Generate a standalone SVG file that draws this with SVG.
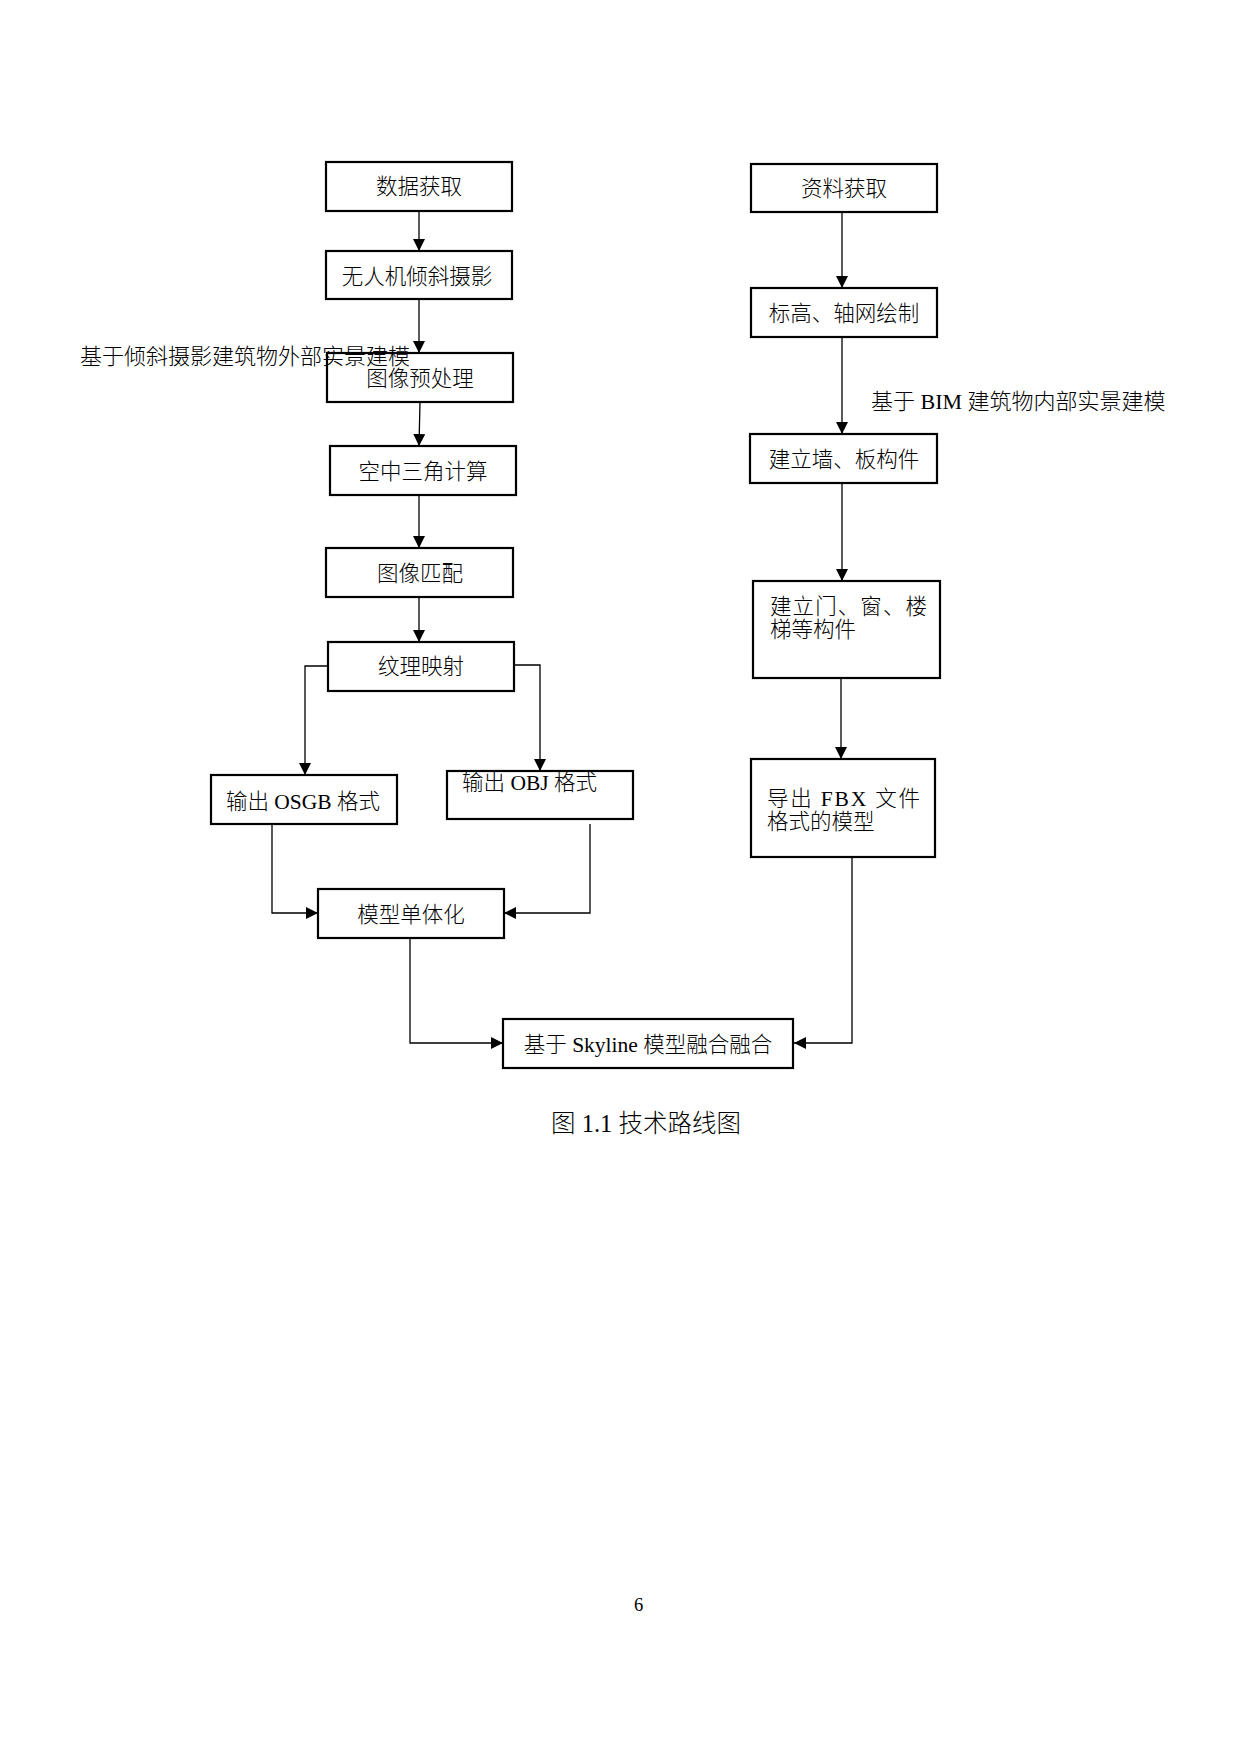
<svg xmlns="http://www.w3.org/2000/svg" width="1240" height="1754" viewBox="0 0 1240 1754">
<style>
.box{fill:#fff;stroke:#000;stroke-width:2.2}
.t{font-family:"Liberation Serif","Noto Sans CJK SC",serif;font-size:21.5px;font-weight:300;fill:#000}
.c{text-anchor:middle}
.lbl{font-family:"Liberation Serif","Noto Sans CJK SC",serif;font-weight:300;fill:#000}
#connectors path{fill:none;stroke:#000;stroke-width:1.3;marker-end:url(#arr)}
</style>
<defs>
<marker id="arr" markerUnits="userSpaceOnUse" markerWidth="12" markerHeight="12" refX="12" refY="6" orient="auto">
<path d="M0,0 L12,6 L0,12 z" fill="#000"/>
</marker>
</defs>
<rect width="1240" height="1754" fill="#fff"/>
<g id="connectors">
<path d="M419,211 V251"/>
<path d="M419,299 V353"/>
<path d="M420,402 L419,446"/>
<path d="M419,495 V548"/>
<path d="M419,597 V642"/>
<path d="M328,666 H305 V775"/>
<path d="M514,665 H540 V771"/>
<path d="M272,824 V913 H318"/>
<path d="M590,824 V913 H504"/>
<path d="M410,938 V1043 H503"/>
<path d="M842,212 V288"/>
<path d="M842,337 V434"/>
<path d="M842,483 V581"/>
<path d="M841,678 V759"/>
<path d="M852,857 V1043 H794"/>
</g>
<g id="n1"><rect class="box" x="326" y="162" width="186" height="49"/><text class="t c" x="419" y="194">数据获取</text></g>
<g id="n2"><rect class="box" x="326" y="251" width="186" height="48"/><text class="t c" x="417" y="284">无人机倾斜摄影</text></g>
<g id="n3"><rect class="box" x="327" y="353" width="186" height="49"/><text class="t c" x="420" y="386">图像预处理</text></g>
<g id="n4"><rect class="box" x="330" y="446" width="186" height="49"/><text class="t c" x="423" y="479">空中三角计算</text></g>
<g id="n5"><rect class="box" x="326" y="548" width="187" height="49"/><text class="t c" x="420" y="581">图像匹配</text></g>
<g id="n6"><rect class="box" x="328" y="642" width="186" height="49"/><text class="t c" x="421" y="674">纹理映射</text></g>
<g id="n7"><rect class="box" x="211" y="775" width="186" height="49"/><text class="t c" x="303" y="809">输出 OSGB 格式</text></g>
<g id="n8"><rect class="box" x="447" y="771" width="186" height="48"/><text class="t" x="462" y="790">输出 OBJ 格式</text></g>
<g id="n9"><rect class="box" x="318" y="889" width="186" height="49"/><text class="t c" x="411" y="922">模型单体化</text></g>
<g id="n10"><rect class="box" x="503" y="1019" width="290" height="49"/><text class="t c" x="648" y="1052">基于 Skyline 模型融合融合</text></g>
<g id="r1"><rect class="box" x="751" y="164" width="186" height="48"/><text class="t c" x="844" y="196">资料获取</text></g>
<g id="r2"><rect class="box" x="751" y="288" width="186" height="49"/><text class="t c" x="844" y="321">标高、轴网绘制</text></g>
<g id="r3"><rect class="box" x="750" y="434" width="187" height="49"/><text class="t c" x="844" y="467">建立墙、板构件</text></g>
<g id="r4"><rect class="box" x="753" y="581" width="187" height="97"/><text class="t" x="770" y="614" textLength="157" lengthAdjust="spacing">建立门、窗、楼</text><text class="t" x="770" y="637">梯等构件</text></g>
<g id="r5"><rect class="box" x="751" y="759" width="184" height="98"/><text class="t" x="767" y="806" textLength="153" lengthAdjust="spacing">导出 FBX 文件</text><text class="t" x="767" y="829">格式的模型</text></g>
<g id="labels">
<text class="lbl" x="80" y="364" font-size="22">基于倾斜摄影建筑物外部实景建模</text>
<text class="lbl" x="871" y="409" font-size="22">基于 BIM 建筑物内部实景建模</text>
<text class="lbl" x="646" y="1132" font-size="24.5" text-anchor="middle">图 1.1 技术路线图</text>
<text class="lbl" x="638.5" y="1611" font-size="18.5" text-anchor="middle">6</text>
</g>
</svg>
